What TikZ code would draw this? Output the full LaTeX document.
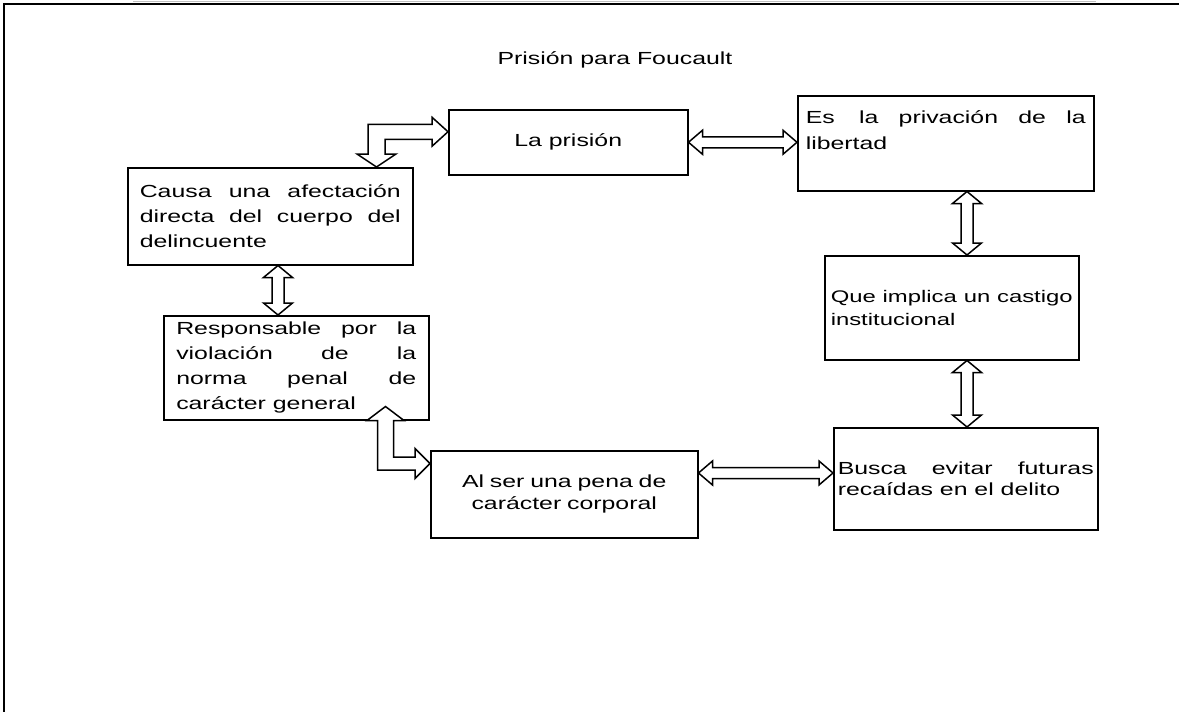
\documentclass[tikz,border=0pt]{standalone}
\usepackage{fontspec}
\setmainfont{Liberation Sans}[FakeStretch=1.42]
\usetikzlibrary{calc,positioning}

% flecha hueca doble horizontal: #1 punta izquierda, #2 punta derecha
\newcommand{\flechah}[2]{%
  \draw[flecha] let \p1=#1, \p2=#2 in
    (\x1,\y1) -- (\x1+7pt,\y1+6pt) -- (\x1+7pt,\y1+2.75pt)
    -- (\x2-7pt,\y1+2.75pt) -- (\x2-7pt,\y1+6pt) -- (\x2,\y1)
    -- (\x2-7pt,\y1-6pt) -- (\x2-7pt,\y1-2.75pt)
    -- (\x1+7pt,\y1-2.75pt) -- (\x1+7pt,\y1-6pt) -- cycle;}
% flecha hueca doble vertical: #1 punta arriba, #2 punta abajo
\newcommand{\flechav}[2]{%
  \draw[flecha] let \p1=#1, \p2=#2 in
    (\x1,\y1) -- (\x1+7.25pt,\y1-6pt) -- (\x1+3pt,\y1-6pt)
    -- (\x1+3pt,\y2+6pt) -- (\x1+7.25pt,\y2+6pt) -- (\x1,\y2)
    -- (\x1-7.25pt,\y2+6pt) -- (\x1-3pt,\y2+6pt)
    -- (\x1-3pt,\y1-6pt) -- (\x1-7.25pt,\y1-6pt) -- cycle;}

\begin{document}
\begin{tikzpicture}[x=0.5pt, y=-0.5pt,
					font=\fontsize{8.75pt}{12.5pt}\selectfont,
					caja/.style={rectangle,
					draw=black,
					line width=0.75pt,
					fill=white,
					inner ysep=0pt,
					anchor=north west,
					align=justify},
					flecha/.style={draw=black,
					line width=0.75pt,
					fill=white,
					line join=miter}
					]

% hoja: borde y linea gris
\useasboundingbox (0,0) rectangle (1179,712);
\draw[black!25, line width=0.5pt] (133,1.5) -- (1096,1.5);
\draw[line width=1pt] (4,712) -- (4,4) -- (1179,4);

%titulo
\node (titulo) at (615,60) {Prisión para Foucault};

%cajas columna derecha
\node[caja, minimum width=119.5pt, minimum height=32.5pt, align=center] (prision) at (448,109) {La prisión};
\node[caja, text width=140pt, inner xsep=4pt, minimum height=47.5pt, font=\fontsize{8.75pt}{13pt}\selectfont] (privacion) at (797,95) {Es\hspace{2pt} la privación de la\linebreak libertad\par\mbox{}};
\node[caja, text width=121pt, inner xsep=3pt, minimum height=52pt, font=\fontsize{8.4pt}{11.5pt}\selectfont] (que) at (824,255) {Que implica un castigo\linebreak institucional};
\node[caja, text width=128pt, inner xsep=2pt, minimum height=51pt, font=\fontsize{8.75pt}{10.5pt}\selectfont] (busca) at (833,427) {Busca evitar futuras\linebreak recaídas en el delito};

%cajas columna izquierda
\node[caja, text width=130.5pt, inner xsep=6pt, minimum height=48.5pt] (causa) at (127,167) {Causa una afectación\linebreak directa del cuerpo del\linebreak delincuente};
\node[caja, text width=120pt, inner xsep=6.25pt, minimum height=52pt] (resp) at (163,315) {Responsable por la\linebreak violación de la\linebreak norma penal de\linebreak carácter general};
\node[caja, text width=125pt, inner xsep=4.25pt, minimum height=43.5pt, align=center, font=\fontsize{8.75pt}{11pt}\selectfont] (alser) at (430,450) {Al ser una pena de\\carácter corporal};

%ejes de las flechas
\coordinate (ejeizq) at (278,0);
\coordinate (ejeder) at (967,0);
\coordinate (ejeinf) at (0,473);

%flechas rectas
\flechah{(prision.east)}{(privacion.west |- prision.east)}
\flechav{(ejeder |- privacion.south)}{(que.north)}
\flechav{(ejeder |- que.south)}{(busca.north)}
\flechah{(alser.east |- ejeinf)}{(busca.west |- ejeinf)}
\flechav{(ejeizq |- causa.south)}{(resp.north)}

%flecha en L: la prision -> causa
\draw[flecha] let \p1=($(prision.west)+(0,-10.5)$), \p2=($(causa.north east)+(-37,0)$) in
	(\x1,\y1) -- (\x1-8pt,\y1+7.25pt) -- (\x1-8pt,\y1+3.75pt)
	-- (\x2-4.25pt,\y1+3.75pt) -- (\x2-4.25pt,\y2+6.5pt) -- (\x2-9.75pt,\y2+6.5pt)
	-- (\x2,\y2) -- (\x2+9.75pt,\y2+6.5pt) -- (\x2+4.25pt,\y2+6.5pt)
	-- (\x2+4.25pt,\y1-3.75pt) -- (\x1-8pt,\y1-3.75pt) -- (\x1-8pt,\y1-7.25pt) -- cycle;

%flecha en L: responsable -> al ser
\draw[flecha] let \p1=($(resp.south east)+(-44,-14)$), \p2=($(alser.north west)+(0,13.5)$) in
	(\x1,\y1) -- (\x1+9.25pt,\y1-7pt) -- (\x1+4pt,\y1-7pt)
	-- (\x1+4pt,\y2+3.25pt) -- (\x2-7.5pt,\y2+3.25pt) -- (\x2-7.5pt,\y2+7.5pt)
	-- (\x2,\y2) -- (\x2-7.5pt,\y2-7.5pt) -- (\x2-7.5pt,\y2-3.25pt)
	-- (\x1-4pt,\y2-3.25pt) -- (\x1-4pt,\y1-7pt) -- (\x1-9.25pt,\y1-7pt) -- cycle;
\end{tikzpicture}
\end{document}
